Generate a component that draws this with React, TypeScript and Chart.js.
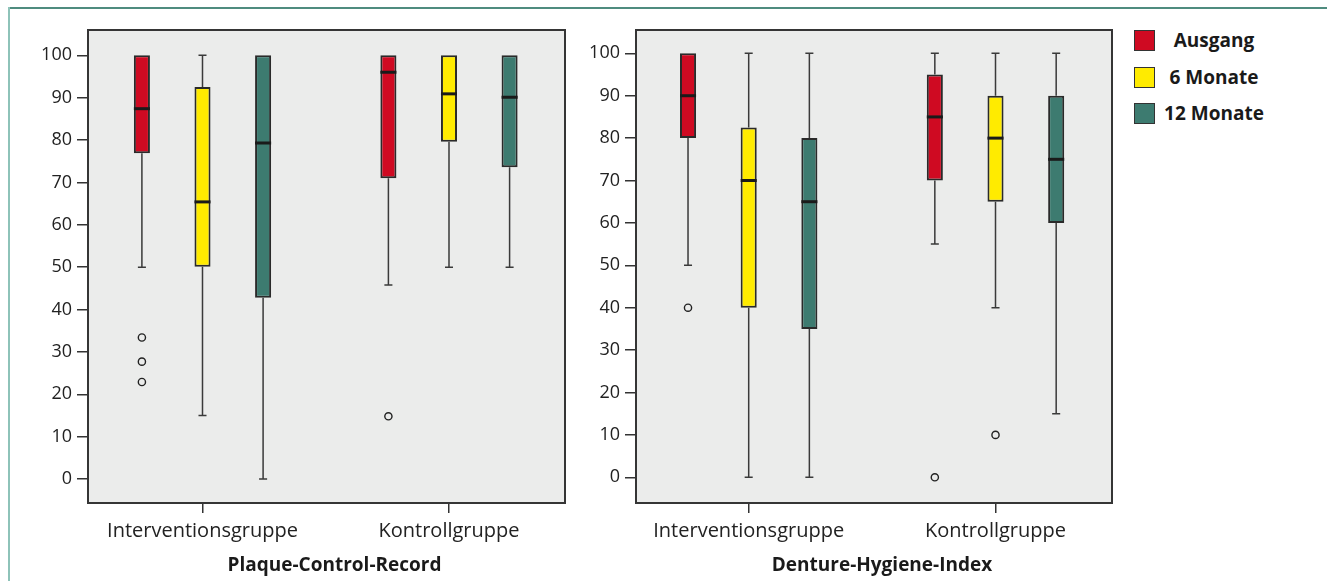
import React, { useEffect, useRef } from "react";
import { Chart, registerables } from "chart.js";

Chart.register(...registerables);

// ---------- data ----------
const categories = ["Interventionsgruppe", "Kontrollgruppe"];
const seriesNames = ["Ausgang", "6 Monate", "12 Monate"];
const seriesColors = ["#cf0a22", "#ffeb00", "#3d7b70"];
const yTickValues = [0, 10, 20, 30, 40, 50, 60, 70, 80, 90, 100];

// Plaque-Control-Record (rows: series, columns: categories)
const pcrMin = [[50, 45.8], [15, 50], [0, 50]];
const pcrQ1 = [[76.9, 71], [50.1, 79.6], [42.8, 73.6]];
const pcrMedian = [[87.4, 96], [65.4, 90.9], [79.3, 90.1]];
const pcrQ3 = [[100, 100], [92.5, 100], [100, 100]];
const pcrMax = [[100, 100], [100, 100], [100, 100]];
const pcrOutliers = [[[33.4, 27.7, 22.9], [14.8]], [[], []], [[], []]];

// Denture-Hygiene-Index (rows: series, columns: categories)
const dhiMin = [[50, 55], [0, 40], [0, 15]];
const dhiQ1 = [[80, 70], [40, 65], [35, 60]];
const dhiMedian = [[90, 85], [70, 80], [65, 75]];
const dhiQ3 = [[100, 95], [82.5, 90], [80, 90]];
const dhiMax = [[100, 100], [100, 100], [100, 100]];
const dhiOutliers = [[[40], [0]], [[], [10]], [[], []]];

const FONT = "'Open Sans', 'Noto Sans', sans-serif";

type Stats = {
  min: number[][];
  q1: number[][];
  median: number[][];
  q3: number[][];
  max: number[][];
  outliers: number[][][];
};

const boxPlugin = {
  id: "boxplot",
  beforeDraw(chart: any) {
    const { ctx, chartArea: a } = chart;
    ctx.save();
    ctx.fillStyle = "#ebeceb";
    ctx.fillRect(a.left, a.top, a.right - a.left, a.bottom - a.top);
    ctx.restore();
  },
  beforeDatasetsDraw(chart: any, _args: any, opts: any) {
    const s: Stats = opts.stats;
    const { ctx } = chart;
    const y = chart.scales.y;
    ctx.save();
    ctx.strokeStyle = "#3a3a3a";
    ctx.lineWidth = 1.5;
    chart.data.datasets.forEach((_ds: any, i: number) => {
      const meta = chart.getDatasetMeta(i);
      meta.data.forEach((bar: any, j: number) => {
        const x = bar.x;
        const cap = bar.width * 0.5;
        const yQ1 = y.getPixelForValue(s.q1[i][j]);
        const yQ3 = y.getPixelForValue(s.q3[i][j]);
        ctx.beginPath();
        if (s.min[i][j] < s.q1[i][j]) {
          const yMin = y.getPixelForValue(s.min[i][j]);
          ctx.moveTo(x, yMin);
          ctx.lineTo(x, yQ1);
          ctx.moveTo(x - cap / 2, yMin);
          ctx.lineTo(x + cap / 2, yMin);
        }
        if (s.max[i][j] > s.q3[i][j]) {
          const yMax = y.getPixelForValue(s.max[i][j]);
          ctx.moveTo(x, yQ3);
          ctx.lineTo(x, yMax);
          ctx.moveTo(x - cap / 2, yMax);
          ctx.lineTo(x + cap / 2, yMax);
        }
        ctx.stroke();
      });
    });
    ctx.restore();
  },
  afterDatasetsDraw(chart: any, _args: any, opts: any) {
    const s: Stats = opts.stats;
    const { ctx } = chart;
    const y = chart.scales.y;
    ctx.save();
    chart.data.datasets.forEach((_ds: any, i: number) => {
      const meta = chart.getDatasetMeta(i);
      meta.data.forEach((bar: any, j: number) => {
        const x = bar.x;
        const w = bar.width;
        const yMed = y.getPixelForValue(s.median[i][j]);
        ctx.strokeStyle = "#1a1a1a";
        ctx.lineWidth = 3;
        ctx.beginPath();
        ctx.moveTo(x - w / 2, yMed);
        ctx.lineTo(x + w / 2, yMed);
        ctx.stroke();
        ctx.strokeStyle = "#222";
        ctx.lineWidth = 1.4;
        s.outliers[i][j].forEach((v) => {
          ctx.beginPath();
          ctx.arc(x, y.getPixelForValue(v), 3.6, 0, Math.PI * 2);
          ctx.stroke();
        });
      });
    });
    ctx.restore();
  },
  afterDraw(chart: any, _args: any, opts: any) {
    const { ctx, chartArea: a } = chart;
    ctx.save();
    ctx.strokeStyle = "#353535";
    ctx.lineWidth = 2;
    ctx.strokeRect(a.left, a.top, a.right - a.left, a.bottom - a.top);
    // axis title (slightly right of the plot centre, as in the original)
    const xs = chart.scales.x;
    ctx.fillStyle = "#1a1a1a";
    ctx.font = `bold 19px ${FONT}`;
    ctx.textAlign = "center";
    ctx.textBaseline = "alphabetic";
    ctx.fillText(opts.title, (xs.left + xs.right) / 2 + opts.titleShift, xs.bottom - 10);
    ctx.restore();
  },
};

function BoxPanel(props: {
  title: string;
  stats: Stats;
  yMin: number;
  yMax: number;
  xMin: number;
  xMax: number;
  axisWidth: number;
  padRight: number;
  left: number;
  width: number;
}) {
  const ref = useRef<HTMLCanvasElement | null>(null);
  useEffect(() => {
    if (!ref.current) return;
    const { stats } = props;
    const chart = new Chart(ref.current, {
      type: "bar",
      data: {
        datasets: seriesNames.map((name, i) => ({
          label: name,
          data: categories.map((_c, j) => ({ x: j, y: [stats.q1[i][j], stats.q3[i][j]] })),
          backgroundColor: seriesColors[i],
          borderColor: "#2a2a2a",
          borderWidth: 2,
          borderSkipped: false,
          categoryPercentage: 0.7375,
          barPercentage: 0.265,
        })),
      } as any,
      options: {
        animation: false,
        responsive: false,
        devicePixelRatio: 1,
        layout: { padding: { left: 0, top: 30, right: props.padRight, bottom: 0 } },
        plugins: {
          legend: { display: false },
          tooltip: { enabled: false },
          boxplot: { stats, title: props.title, titleShift: 8 },
        } as any,
        scales: {
          x: {
            type: "linear",
            min: props.xMin,
            max: props.xMax,
            offset: false,
            grid: {
              display: true,
              offset: false,
              drawOnChartArea: false,
              drawTicks: true,
              tickLength: 10,
              tickColor: "#333",
              lineWidth: 1.5,
            },
            border: { display: false },
            ticks: {
              color: "#222",
              padding: 6,
              font: { family: FONT, size: 20 },
              callback: (v: any) => categories[Number(v)] ?? "",
            },
            afterBuildTicks: (s: any) => {
              s.ticks = categories.map((_c, j) => ({ value: j }));
            },
            title: { display: false },
            afterFit: (s: any) => {
              s.height = 78;
            },
          },
          y: {
            type: "linear",
            min: props.yMin,
            max: props.yMax,
            grid: {
              display: true,
              drawOnChartArea: false,
              drawTicks: true,
              tickLength: 11,
              tickColor: "#333",
              lineWidth: 1.5,
            },
            border: { display: false },
            ticks: {
              color: "#222",
              padding: 5,
              font: { family: FONT, size: 18 },
            },
            afterBuildTicks: (s: any) => {
              s.ticks = yTickValues.map((v) => ({ value: v }));
            },
            afterFit: (s: any) => {
              s.width = props.axisWidth;
            },
          },
        } as any,
      },
      plugins: [boxPlugin as any],
    });
    return () => chart.destroy();
  }, []);
  return (
    <canvas
      ref={ref}
      width={props.width}
      height={581}
      style={{ position: "absolute", left: props.left, top: 0, width: props.width, height: 581 }}
    />
  );
}

export default function App() {
  const pcr: Stats = { min: pcrMin, q1: pcrQ1, median: pcrMedian, q3: pcrQ3, max: pcrMax, outliers: pcrOutliers };
  const dhi: Stats = { min: dhiMin, q1: dhiQ1, median: dhiMedian, q3: dhiQ3, max: dhiMax, outliers: dhiOutliers };
  return (
    <div
      style={{
        position: "fixed",
        left: 0,
        top: 0,
        width: 1327,
        height: 581,
        background: "#ffffff",
        overflow: "hidden",
        fontFamily: FONT,
      }}
    >
      <div style={{ position: "absolute", left: 8, top: 7, right: 0, height: 1.5, background: "#4f8c7f" }} />
      <div style={{ position: "absolute", left: 8, top: 7, width: 2, bottom: 0, background: "#8ec3b9" }} />
      <BoxPanel
        title="Plaque-Control-Record"
        stats={pcr}
        yMin={-5.66}
        yMax={105.97}
        xMin={-0.4645}
        xMax={1.4706}
        axisWidth={88}
        padRight={15}
        left={0}
        width={580}
      />
      <BoxPanel
        title="Denture-Hygiene-Index"
        stats={dhi}
        yMin={-6.06}
        yMax={105.5}
        xMin={-0.4566}
        xMax={1.472}
        axisWidth={66}
        padRight={8}
        left={570}
        width={550}
      />
      {seriesNames.map((name, i) => (
        <div key={name}>
          <div
            style={{
              position: "absolute",
              left: 1134,
              top: 30 + i * 36.5,
              width: 19,
              height: 19,
              background: seriesColors[i],
              border: "1.5px solid #333",
            }}
          />
          <div
            style={{
              position: "absolute",
              left: 1159,
              width: 110,
              top: 29 + i * 36.5,
              height: 22,
              lineHeight: "22px",
              textAlign: "center",
              fontWeight: "bold",
              fontSize: 19,
              color: "#1a1a1a",
              whiteSpace: "nowrap",
            }}
          >
            {name}
          </div>
        </div>
      ))}
    </div>
  );
}
